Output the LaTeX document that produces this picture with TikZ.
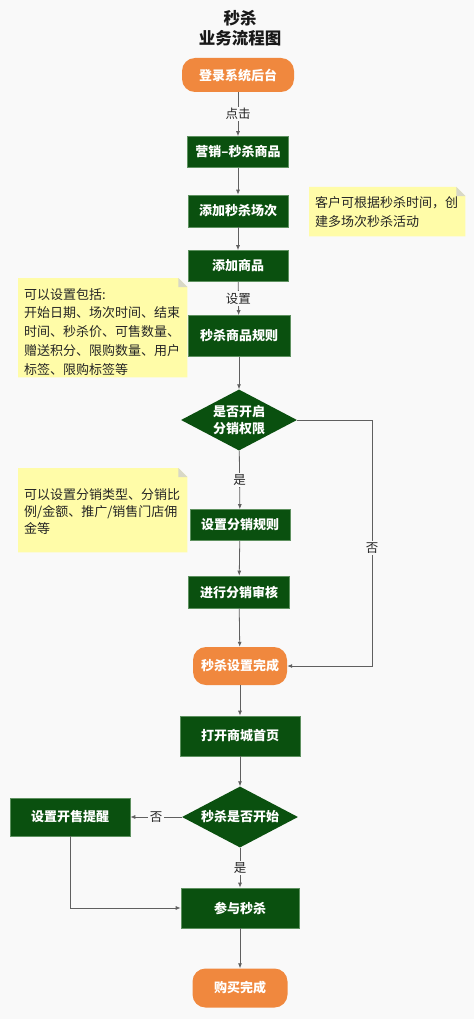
\documentclass[tikz,border=0pt]{standalone}
\usepackage{fontspec}
\setmainfont{Noto Sans CJK SC}
\usetikzlibrary{shapes.geometric,arrows.meta,calc}
\definecolor{bg}{HTML}{F9F9F9}
\definecolor{dgreen}{HTML}{0A500F}
\definecolor{gedge}{HTML}{5E9160}
\definecolor{orng}{HTML}{F0883E}
\definecolor{noteY}{HTML}{FFFCA8}
\definecolor{foldc}{HTML}{D8D8C8}
\definecolor{linec}{HTML}{606060}
\tikzset{
  proc/.style={rectangle, fill=dgreen, draw=gedge, line width=0.6pt, text=white,
    font=\fontsize{13}{15}\selectfont\bfseries, inner sep=0pt},
  term/.style={rectangle, rounded corners=13pt, fill=orng, draw=none, text=white,
    font=\fontsize{13}{15}\selectfont\bfseries, inner sep=0pt},
  decis/.style={diamond, aspect=1.9, fill=dgreen, draw=none, text=white, inner sep=0pt,
    font=\fontsize{13}{17}\selectfont\bfseries, align=center},
  flow/.style={draw=linec, line width=0.8pt, -{Latex[length=5pt,width=4pt]}},
  plain/.style={draw=linec, line width=0.8pt},
  elabel/.style={fill=bg, inner sep=1.5pt, font=\fontsize{12.5}{14}\selectfont, text=black!85},
  notebox/.style={anchor=north west, inner sep=0pt, align=left, text=black!85},
}
\begin{document}
\begin{tikzpicture}[x=1pt,y=-1pt]
\fill[bg] (0,0) rectangle (474,1019);
\useasboundingbox (0,0) rectangle (474,1019);

% title
\node[font=\fontsize{16.5}{20}\selectfont\bfseries, align=center, text=black!90] (title) at (240,28) {秒杀\\业务流程图};

% nodes
\node[term, minimum width=112pt, minimum height=34pt] (login) at (238,75) {登录系统后台};
\node[proc, minimum width=101pt, minimum height=31pt] (mkt) at (238,152) {营销–秒杀商品};
\node[proc, minimum width=100pt, minimum height=32pt] (session) at (238,211) {添加秒杀场次};
\node[proc, minimum width=100pt, minimum height=31pt] (goods) at (238,266) {添加商品};
\node[proc, minimum width=102pt, minimum height=41pt] (rule) at (239,336) {秒杀商品规则};
\node[decis, minimum width=116pt, minimum height=61pt] (d1) at (239,420) {是否开启\\分销权限};
\node[proc, minimum width=100pt, minimum height=31pt] (drule) at (240,525) {设置分销规则};
\node[proc, minimum width=101pt, minimum height=32pt] (audit) at (239,592) {进行分销审核};
\node[term, minimum width=94pt, minimum height=38pt] (done) at (240,666) {秒杀设置完成};
\node[proc, minimum width=120pt, minimum height=40pt] (shop) at (240,736) {打开商城首页};
\node[decis, minimum width=116pt, minimum height=61pt] (d2) at (240,817) {秒杀是否开始};
\node[proc, minimum width=120pt, minimum height=38pt] (remind) at (70,817) {设置开售提醒};
\node[proc, minimum width=118pt, minimum height=40pt] (join) at (240,908) {参与秒杀};
\node[term, minimum width=95pt, minimum height=39pt] (buy) at (240,988) {购买完成};

% notes
\node[notebox, minimum width=156pt, minimum height=49pt] (note1) at (309,187) {};
\node[notebox, minimum width=169pt, minimum height=99pt] (note2) at (18,278) {};
\node[notebox, minimum width=169pt, minimum height=84pt] (note3) at (18,468) {};
\foreach \n in {note1,note2,note3}{
  \fill[noteY] (\n.north west) -- ($(\n.north east)+(-9,0)$) -- ($(\n.north east)+(0,9)$)
     -- (\n.south east) -- (\n.south west) -- cycle;
  \fill[foldc] ($(\n.north east)+(-9,0)$) -- ($(\n.north east)+(-9,9)$) -- ($(\n.north east)+(0,9)$) -- cycle;
}
\node[anchor=west, align=left, font=\fontsize{13}{19}\selectfont, text=black!85, inner sep=0pt] (note1t)
  at ($(note1.west)+(6,0)$) {客户可根据秒杀时间，创\\建多场次秒杀活动};
\node[anchor=west, align=left, font=\fontsize{13}{18.7}\selectfont, text=black!85, inner sep=0pt] (note2t)
  at ($(note2.west)+(6,4)$) {可以设置包括:\\开始日期、场次时间、结束\\时间、秒杀价、可售数量、\\赠送积分、限购数量、用户\\标签、限购标签等};
\node[anchor=west, align=left, font=\fontsize{13}{17}\selectfont, text=black!85, inner sep=0pt] (note3t)
  at ($(note3.west)+(6,1)$) {可以设置分销类型、分销比\\例/金额、推广/销售门店佣\\金等};

% connectors
\draw[flow] (login) -- node[elabel] (l1) {点击} (mkt);
\draw[flow] (mkt) -- (session);
\draw[flow] (session) -- (goods);
\draw[flow] (goods) -- node[elabel] (l2) {设置} (rule);
\draw[flow] (rule) -- (d1);
\draw[flow] (d1) -- node[elabel] (l3) {是} (drule);
\coordinate (cr) at (372,420);
\draw[flow] (d1.east) -- (cr) |- node[elabel, pos=0.26] (l4) {否} (done.east);
\draw[flow] (drule) -- (audit);
\draw[flow] (audit) -- (done);
\draw[flow] (done) -- (shop);
\draw[flow] (shop) -- (d2);
\draw[flow] (d2.west) -- node[elabel] (l5) {否} (remind.east);
\draw[flow] (d2.south) -- node[elabel] (l6) {是} (join.north);
\draw[flow] (remind.south) |- (join.west);
\draw[flow] (join) -- (buy);
\end{tikzpicture}
\end{document}
